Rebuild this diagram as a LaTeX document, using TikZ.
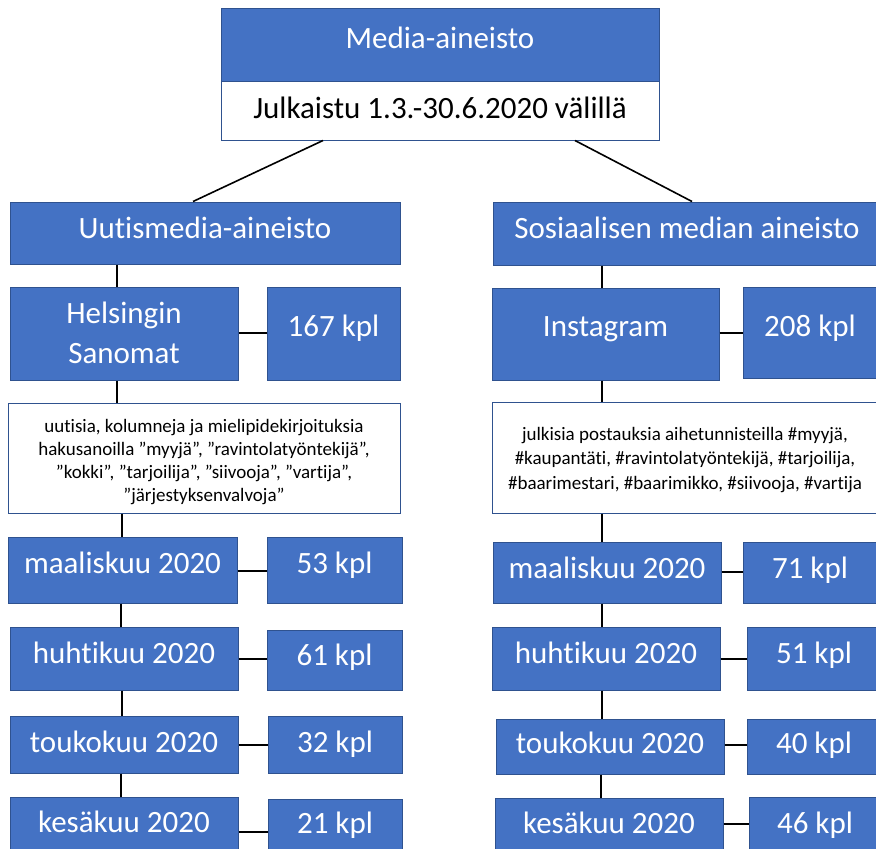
\documentclass[tikz,border=0pt]{standalone}
\usepackage{fontspec}
\setmainfont{Carlito}[Ligatures=NoCommon,RawFeature={-liga}]
\usetikzlibrary{fit}
\definecolor{boxblue}{HTML}{4472C4}
\definecolor{boxedge}{HTML}{2F528F}
\begin{document}
\begin{tikzpicture}[x=1pt,y=-1pt,
  bluebox/.style={fill=boxblue,draw=boxedge,line width=1pt,inner sep=0pt},
  whitebox/.style={fill=white,draw=boxedge,line width=1pt,inner sep=0pt},
  wtxt/.style={text=white,font=\fontsize{31}{37}\selectfont,inner sep=0pt,anchor=base},
  btxt/.style={text=black,font=\fontsize{31}{37}\selectfont,inner sep=0pt,anchor=base},
  stxtl/.style={text=black,font=\fontsize{19}{23.3}\selectfont,inner sep=0pt,align=center},
  stxtr/.style={text=black,font=\fontsize{19}{24.5}\selectfont,inner sep=0pt,align=center},
  link/.style={draw=black,line width=1.6pt}]
\useasboundingbox (0,0) rectangle (876,849);
\clip (0,0) rectangle (876,849);
% boxes
\node[whitebox,fit={(221,81) (659,140)}] (topw) {};
\node[bluebox,fit={(221,8) (659,81)}] (top) {};
\node[bluebox,fit={(10,202) (400,264)}] (uut) {};
\node[bluebox,fit={(493,202) (880,265)}] (sos) {};
\node[bluebox,fit={(10,287) (238,380)}] (hs) {};
\node[bluebox,fit={(267,287) (400,380)}] (n167) {};
\node[bluebox,fit={(492,288) (719,380)}] (ins) {};
\node[bluebox,fit={(743,287) (880,378)}] (n208) {};
\node[whitebox,fit={(8,403) (400,513)}] (hsbox) {};
\node[whitebox,fit={(492,402) (880,513)}] (insbox) {};
\node[bluebox,fit={(8,537) (237,603)}] (m1) {};
\node[bluebox,fit={(267,537) (402,603)}] (c1) {};
\node[bluebox,fit={(10,627) (238,690)}] (m2) {};
\node[bluebox,fit={(267,630) (402,690)}] (c2) {};
\node[bluebox,fit={(10,716) (238,773)}] (m3) {};
\node[bluebox,fit={(268,716) (402,773)}] (c3) {};
\node[bluebox,fit={(10,797) (238,870)}] (m4) {};
\node[bluebox,fit={(268,799) (402,870)}] (c4) {};
\node[bluebox,fit={(493,542) (721,603)}] (r1) {};
\node[bluebox,fit={(743,542) (880,603)}] (d1) {};
\node[bluebox,fit={(492,627) (720,690)}] (r2) {};
\node[bluebox,fit={(747,627) (880,690)}] (d2) {};
\node[bluebox,fit={(496,719) (724,774)}] (r3) {};
\node[bluebox,fit={(747,719) (880,774)}] (d3) {};
\node[bluebox,fit={(495,798) (723,870)}] (r4) {};
\node[bluebox,fit={(749,797) (880,870)}] (d4) {};
% texts
\node[wtxt] (ttop) at (440,48) {Media-aineisto};
\node[btxt] (ttopw) at (440,118) {Julkaistu 1.3.-30.6.2020 välillä};
\node[wtxt] (tuut) at (205,238) {Uutismedia-aineisto};
\node[wtxt] (tsos) at (687,238) {Sosiaalisen median aineisto};
\node[wtxt] (ths1) at (124,323) {Helsingin};
\node[wtxt] (ths2) at (124,363) {Sanomat};
\node[wtxt] (t167) at (333.5,336) {167 kpl};
\node[wtxt] (tins) at (605.5,336) {Instagram};
\node[wtxt] (t208) at (810,336) {208 kpl};
\node[stxtl] (ths) at (204,462) {uutisia, kolumneja ja mielipidekirjoituksia\\hakusanoilla ”myyjä”, ”ravintolatyöntekijä”,\\”kokki”, ”tarjoilija”, ”siivooja”, ”vartija”,\\”järjestyksenvalvoja”};
\node[stxtr] (tinsb) at (685,460) {julkisia postauksia aihetunnisteilla \#myyjä,\\\#kaupantäti, \#ravintolatyöntekijä, \#tarjoilija,\\\#baarimestari, \#baarimikko, \#siivooja, \#vartija};
\node[wtxt] (tm1) at (122.5,573) {maaliskuu 2020};
\node[wtxt] (tc1) at (334.5,573) {53 kpl};
\node[wtxt] (tm2) at (124,663) {huhtikuu 2020};
\node[wtxt] (tc2) at (334.5,665) {61 kpl};
\node[wtxt] (tm3) at (124,752) {toukokuu 2020};
\node[wtxt] (tc3) at (335,752) {32 kpl};
\node[wtxt] (tm4) at (124,832) {kesäkuu 2020};
\node[wtxt] (tc4) at (335,833) {21 kpl};
\node[wtxt] (tr1) at (607,578) {maaliskuu 2020};
\node[wtxt] (td1) at (810,578) {71 kpl};
\node[wtxt] (tr2) at (606,663) {huhtikuu 2020};
\node[wtxt] (td2) at (814,663) {51 kpl};
\node[wtxt] (tr3) at (610,753) {toukokuu 2020};
\node[wtxt] (td3) at (814,753) {40 kpl};
\node[wtxt] (tr4) at (609,833) {kesäkuu 2020};
\node[wtxt] (td4) at (815,833) {46 kpl};
% connectors
\draw[link] (topw.south -| 323,0) -- (uut.north -| 193,0);
\draw[link] (topw.south -| 575,0) -- (sos.north -| 692,0);
\draw[link] (uut.south -| 117,0) -- (hs.north -| 117,0);
\draw[link] (hs.south -| 117,0) -- (hsbox.north -| 117,0);
\draw[link] (hsbox.south -| 122,0) -- (m1.north -| 122,0);
\draw[link] (m1.south -| 121,0) -- (m2.north -| 121,0);
\draw[link] (m2.south -| 122,0) -- (m3.north -| 122,0);
\draw[link] (m3.south -| 121,0) -- (m4.north -| 121,0);
\draw[link] (sos.south -| 602,0) -- (ins.north -| 602,0);
\draw[link] (ins.south -| 602,0) -- (insbox.north -| 602,0);
\draw[link] (insbox.south -| 602,0) -- (r1.north -| 602,0);
\draw[link] (r1.south -| 602,0) -- (r2.north -| 602,0);
\draw[link] (r2.south -| 602,0) -- (r3.north -| 602,0);
\draw[link] (r3.south -| 601,0) -- (r4.north -| 601,0);
\draw[link] (hs.east |- 0,333) -- (n167.west |- 0,333);
\draw[link] (ins.east |- 0,333) -- (n208.west |- 0,333);
\draw[link] (m1.east |- 0,571) -- (c1.west |- 0,571);
\draw[link] (m2.east |- 0,659) -- (c2.west |- 0,659);
\draw[link] (m3.east |- 0,745) -- (c3.west |- 0,745);
\draw[link] (m4.east |- 0,832) -- (c4.west |- 0,832);
\draw[link] (r1.east |- 0,572) -- (d1.west |- 0,572);
\draw[link] (r2.east |- 0,659) -- (d2.west |- 0,659);
\draw[link] (r3.east |- 0,745) -- (d3.west |- 0,745);
\draw[link] (r4.east |- 0,824) -- (d4.west |- 0,824);
\end{tikzpicture}
\end{document}
